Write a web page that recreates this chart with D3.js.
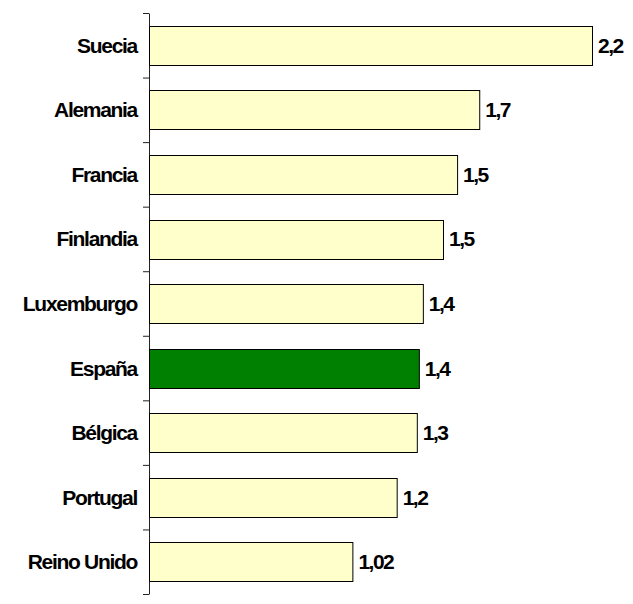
<!DOCTYPE html>
<html>
<head>
<meta charset="utf-8">
<script src="https://cdn.jsdelivr.net/npm/d3@7"></script>
<style>
  body { margin: 0; background: #fff; }
  text { font-family: "Liberation Sans", Arial, sans-serif; font-weight: bold; fill: #000; }
</style>
</head>
<body>
<div id="viz"></div>
<script>
// countries, top to bottom
const countries = ["Suecia", "Alemania", "Francia", "Finlandia", "Luxemburgo", "España", "Bélgica", "Portugal", "Reino Unido"];
// bar lengths
const values = [2.2, 1.64, 1.53, 1.46, 1.36, 1.34, 1.33, 1.23, 1.01];
// the labels printed at the bar ends
const valueLabels = ["2,2", "1,7", "1,5", "1,5", "1,4", "1,4", "1,3", "1,2", "1,02"];
const highlight = "España";

const width = 633, height = 604;
const margin = { top: 13, right: 41, bottom: 10, left: 149 };

const svg = d3.select('#viz').append('svg')
    .attr('width', width)
    .attr('height', height);

const x = d3.scaleLinear()
    .domain([0, 2.2])
    .range([margin.left, width - margin.right]);

const y = d3.scaleBand()
    .domain(countries)
    .range([margin.top, height - margin.bottom])
    .paddingInner(0.4)
    .paddingOuter(0.2);

// ticks sit between the categories, so use a linear scale over the slots
const slots = d3.scaleLinear()
    .domain([0, countries.length])
    .range([margin.top, height - margin.bottom]);

svg.append('g')
    .attr('transform', `translate(${margin.left},0)`)
    .call(d3.axisLeft(slots)
        .tickValues(d3.range(countries.length + 1))
        .tickFormat('')
        .tickSize(6)
        .tickSizeOuter(0))
    .call(g => g.selectAll('path, line').attr('stroke', '#222').attr('stroke-width', 1));

const data = countries.map((c, i) => ({ name: c, value: values[i], label: valueLabels[i] }));

svg.append('g').selectAll('rect')
    .data(data)
    .join('rect')
        .attr('x', x(0) + 0.5)
        .attr('y', d => Math.round(y(d.name)) + 0.5)
        .attr('width', d => x(d.value) - x(0))
        .attr('height', Math.round(y.bandwidth()))
        .attr('fill', d => d.name === highlight ? '#008000' : '#FFFFCC')
        .attr('stroke', '#000')
        .attr('stroke-width', 1);

// category names
svg.append('g').selectAll('text')
    .data(data)
    .join('text')
        .attr('x', margin.left - 12)
        .attr('y', d => y(d.name) + y.bandwidth() / 2 + 7.5)
        .attr('text-anchor', 'end')
        .attr('font-size', 21)
        .attr('letter-spacing', -1.3)
        .text(d => d.name);

// value labels
svg.append('g').selectAll('text')
    .data(data)
    .join('text')
        .attr('x', d => x(d.value) + 6)
        .attr('y', d => y(d.name) + y.bandwidth() / 2 + 7.5)
        .attr('font-size', 21)
        .attr('letter-spacing', -1.5)
        .text(d => d.label);
</script>
</body>
</html>
